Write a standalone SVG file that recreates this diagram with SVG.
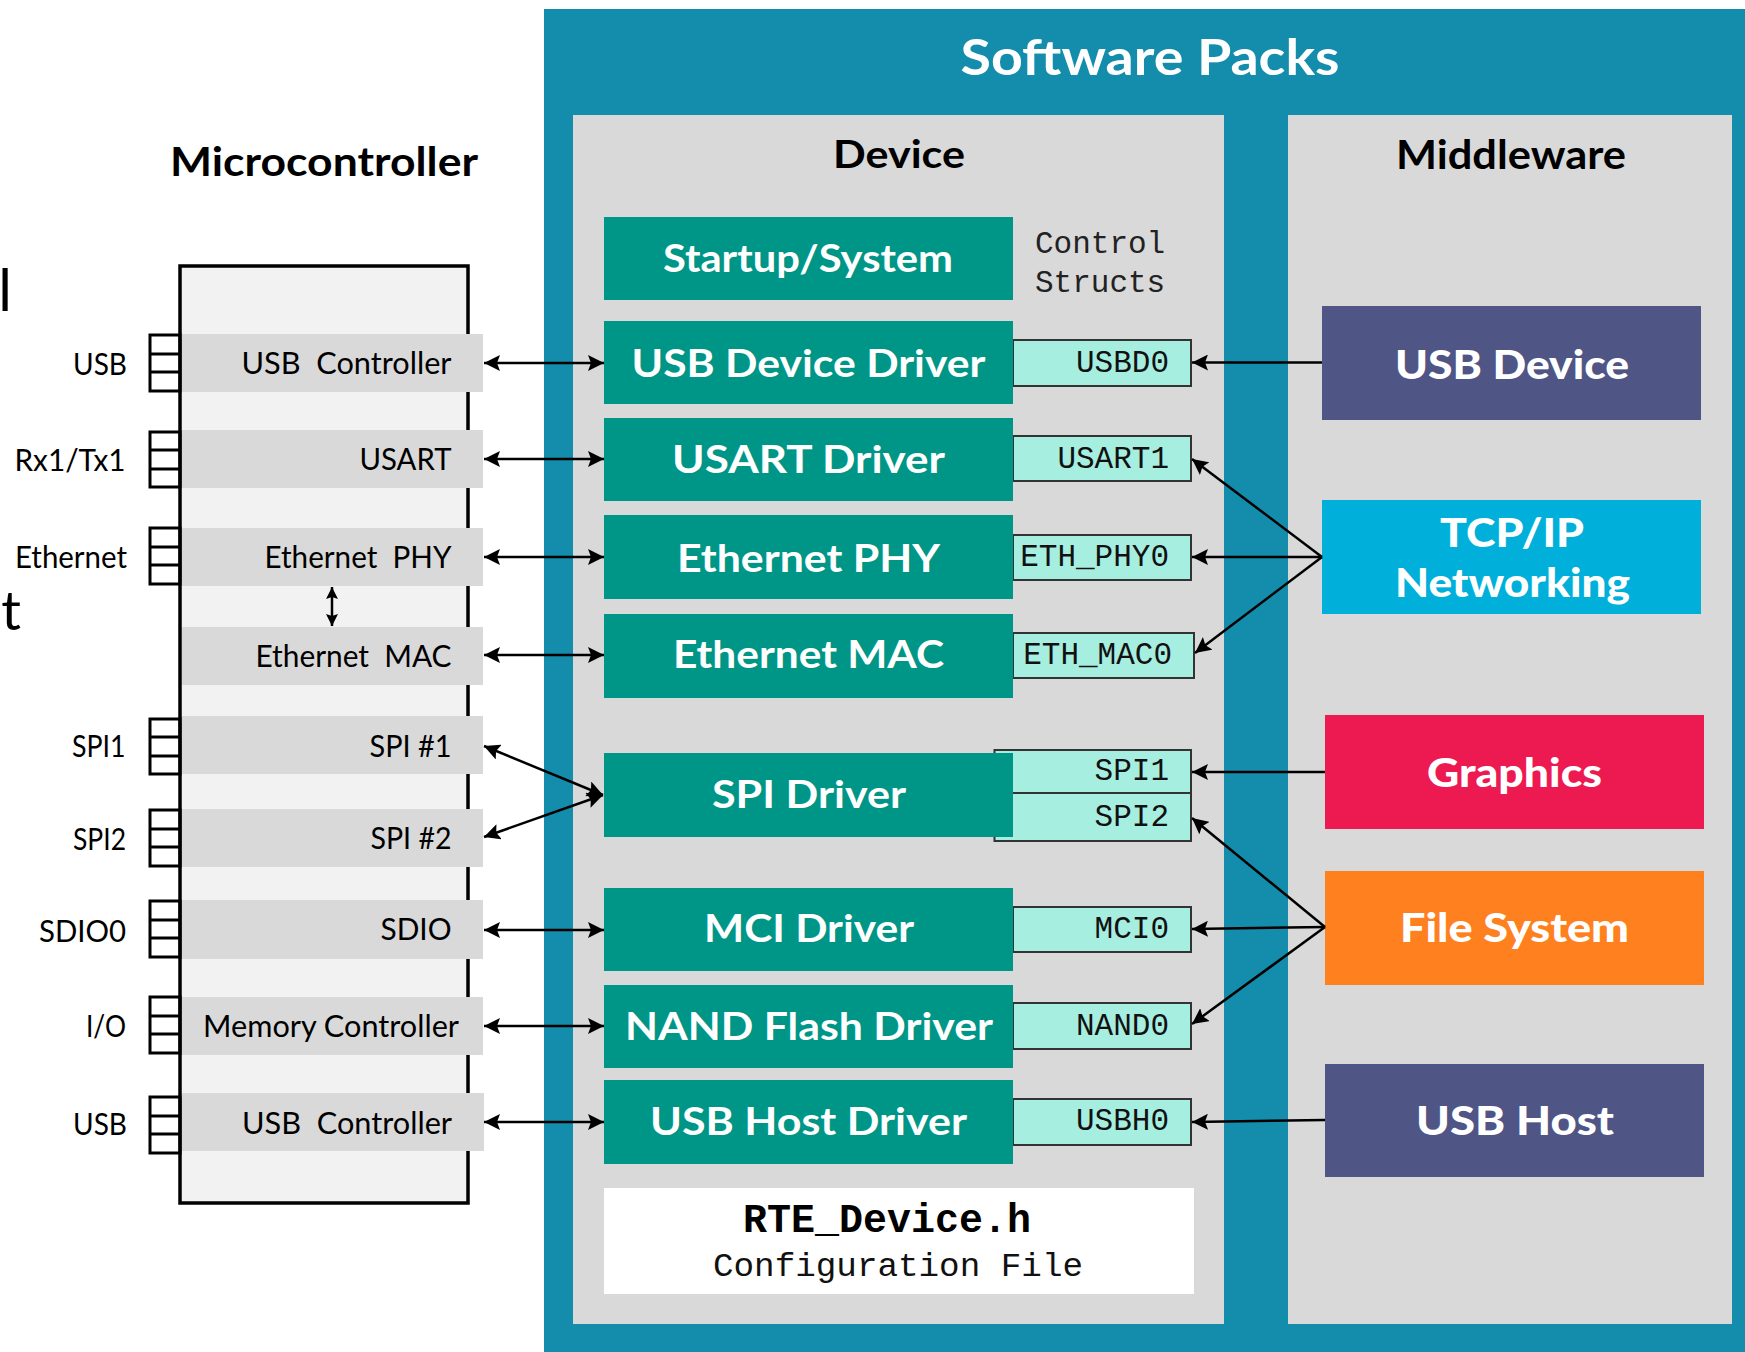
<svg xmlns="http://www.w3.org/2000/svg" width="1745" height="1352" viewBox="0 0 1745 1352">
<style>
.sans{font-family:Lato,"Open Sans","Liberation Sans",sans-serif}
.mono{font-family:"Liberation Mono","DejaVu Sans Mono",monospace}
.title{font-family:Lato,"Open Sans","Liberation Sans",sans-serif;font-weight:bold;fill:#000;text-anchor:middle}
.bar{fill:#D9D9D9}
.barlbl{font-family:Lato,"Open Sans","Liberation Sans",sans-serif;font-size:30px;fill:#000;text-anchor:end}
.pin{fill:none;stroke:#000;stroke-width:3}
.drv{fill:#009687}
.drvlbl{font-family:Lato,"Open Sans","Liberation Sans",sans-serif;font-weight:bold;font-size:38px;fill:#fff;text-anchor:middle}
.inst{fill:#A6EEE0;stroke:#333;stroke-width:2}
.instlbl{font-family:"Liberation Mono","DejaVu Sans Mono",monospace;font-size:31px;fill:#111;text-anchor:end}
.mwlbl{font-family:Lato,"Open Sans","Liberation Sans",sans-serif;font-weight:900;font-size:40px;fill:#fff;text-anchor:middle}
.conn{stroke:#000;stroke-width:2.5;fill:none}
</style>
<defs>
<marker id="ah" viewBox="0 0 16 16" refX="16" refY="8" markerWidth="16" markerHeight="16" markerUnits="userSpaceOnUse" orient="auto-start-reverse"><path d="M0,0 L16,8 L0,16 L3,8 z" fill="#000"/></marker>
<marker id="ahs" viewBox="0 0 12 12" refX="12" refY="6" markerWidth="12" markerHeight="12" markerUnits="userSpaceOnUse" orient="auto-start-reverse"><path d="M0,0 L12,6 L0,12 L2,6 z" fill="#000"/></marker>
</defs>
<rect width="1745" height="1352" fill="#fff"/>

<!-- cut-off fragments at left edge -->
<text class="sans" x="12" y="311" font-size="58" text-anchor="end" fill="#000">l</text>
<text class="sans" x="21" y="630" font-size="55" text-anchor="end" fill="#000">t</text>

<!-- Software packs container -->
<g id="software-packs">
<rect x="544" y="9" width="1201" height="1343" fill="#138DAB"/>
<text class="title" x="1150" y="75" font-size="50" style="fill:#fff" textLength="379" lengthAdjust="spacingAndGlyphs">Software Packs</text>
</g>
<g id="device-panel">
<rect x="573" y="115" width="651" height="1209" fill="#D9D9D9"/>
<text class="title" x="899" y="168" font-size="39" textLength="132" lengthAdjust="spacingAndGlyphs">Device</text>
</g>
<g id="middleware-panel">
<rect x="1288" y="115" width="444" height="1209" fill="#D9D9D9"/>
<text class="title" x="1511" y="169" font-size="40" font-weight="900" textLength="230" lengthAdjust="spacingAndGlyphs">Middleware</text>
</g>

<!-- Microcontroller -->
<g id="microcontroller">
<text class="title" x="324" y="176" font-size="40" textLength="308" lengthAdjust="spacingAndGlyphs">Microcontroller</text>
<rect x="180" y="266" width="288" height="937" fill="#F2F2F2" stroke="#000" stroke-width="3.5"/>
</g>

<g id="mc-usb-controller">
<rect class="bar" x="182" y="334" width="301" height="58"/>
<text class="barlbl" x="451.5" y="374" textLength="210" lengthAdjust="spacingAndGlyphs">USB&#160;&#160;Controller</text>
<rect class="pin" x="150" y="335" width="30" height="56"/><path class="pin" d="M150,354 H180 M150,372 H180"/>
<text class="barlbl" x="127" y="375" textLength="54" lengthAdjust="spacingAndGlyphs">USB</text>
</g>
<g id="mc-usart">
<rect class="bar" x="182" y="430" width="301" height="58"/>
<text class="barlbl" x="451.5" y="470" textLength="92" lengthAdjust="spacingAndGlyphs">USART</text>
<rect class="pin" x="150" y="432" width="30" height="55"/><path class="pin" d="M150,450 H180 M150,469 H180"/>
<text class="barlbl" x="125.5" y="471" textLength="111" lengthAdjust="spacingAndGlyphs">Rx1/Tx1</text>
</g>
<g id="mc-eth-phy">
<rect class="bar" x="182" y="528" width="301" height="58"/>
<text class="barlbl" x="451.5" y="568" textLength="187" lengthAdjust="spacingAndGlyphs">Ethernet&#160;&#160;PHY</text>
<rect class="pin" x="150" y="528" width="30" height="56"/><path class="pin" d="M150,547 H180 M150,565 H180"/>
<text class="barlbl" x="127" y="568" textLength="112" lengthAdjust="spacingAndGlyphs">Ethernet</text>
</g>
<g id="mc-eth-mac">
<rect class="bar" x="182" y="627" width="301" height="58"/>
<text class="barlbl" x="451.5" y="667" textLength="196" lengthAdjust="spacingAndGlyphs">Ethernet&#160;&#160;MAC</text>
</g>
<g id="mc-spi1">
<rect class="bar" x="182" y="716" width="301" height="58"/>
<text class="barlbl" x="451.5" y="757" textLength="82" lengthAdjust="spacingAndGlyphs">SPI #1</text>
<rect class="pin" x="150" y="719" width="30" height="55"/><path class="pin" d="M150,737 H180 M150,756 H180"/>
<text class="barlbl" x="125.5" y="757" textLength="53.5" lengthAdjust="spacingAndGlyphs">SPI1</text>
</g>
<g id="mc-spi2">
<rect class="bar" x="182" y="809" width="301" height="58"/>
<text class="barlbl" x="451.5" y="849" textLength="81" lengthAdjust="spacingAndGlyphs">SPI #2</text>
<rect class="pin" x="150" y="810" width="30" height="56"/><path class="pin" d="M150,829 H180 M150,847 H180"/>
<text class="barlbl" x="126" y="850" textLength="53" lengthAdjust="spacingAndGlyphs">SPI2</text>
</g>
<g id="mc-sdio">
<rect class="bar" x="182" y="900" width="301" height="59"/>
<text class="barlbl" x="451.5" y="940" textLength="71" lengthAdjust="spacingAndGlyphs">SDIO</text>
<rect class="pin" x="150" y="901" width="30" height="56"/><path class="pin" d="M150,920 H180 M150,938 H180"/>
<text class="barlbl" x="126" y="942" textLength="87" lengthAdjust="spacingAndGlyphs">SDIO0</text>
</g>
<g id="mc-memory-controller">
<rect class="bar" x="182" y="997" width="301" height="58"/>
<text class="barlbl" x="459" y="1037" textLength="256" lengthAdjust="spacingAndGlyphs">Memory Controller</text>
<rect class="pin" x="150" y="997" width="30" height="56"/><path class="pin" d="M150,1016 H180 M150,1034 H180"/>
<text class="barlbl" x="126" y="1037" textLength="40" lengthAdjust="spacingAndGlyphs">I/O</text>
</g>
<g id="mc-usb-controller-2">
<rect class="bar" x="182" y="1093" width="302" height="58"/>
<text class="barlbl" x="452" y="1134" textLength="210" lengthAdjust="spacingAndGlyphs">USB&#160;&#160;Controller</text>
<rect class="pin" x="150" y="1097" width="30" height="56"/><path class="pin" d="M150,1116 H180 M150,1134 H180"/>
<text class="barlbl" x="127" y="1135" textLength="54" lengthAdjust="spacingAndGlyphs">USB</text>
</g>

<!-- Instance labels (drawn before drivers so SPI box sits behind) -->
<g id="inst-usbd0"><rect class="inst" x="1013" y="340" width="178" height="46"/><text class="instlbl" x="1169" y="372">USBD0</text></g>
<g id="inst-usart1"><rect class="inst" x="1013" y="436" width="178" height="45"/><text class="instlbl" x="1169" y="468">USART1</text></g>
<g id="inst-eth-phy0"><rect class="inst" x="1013" y="535" width="178" height="45"/><text class="instlbl" x="1169" y="566">ETH_PHY0</text></g>
<g id="inst-eth-mac0"><rect class="inst" x="1013" y="633" width="181" height="45"/><text class="instlbl" x="1172" y="664">ETH_MAC0</text></g>
<g id="inst-spi"><rect class="inst" x="994.5" y="750" width="196.5" height="43"/><rect class="inst" x="994.5" y="793" width="196.5" height="48"/><text class="instlbl" x="1169" y="780">SPI1</text><text class="instlbl" x="1169" y="826">SPI2</text></g>
<g id="inst-mci0"><rect class="inst" x="1013" y="907" width="178" height="45"/><text class="instlbl" x="1169" y="938">MCI0</text></g>
<g id="inst-nand0"><rect class="inst" x="1013" y="1003" width="178" height="46"/><text class="instlbl" x="1169" y="1035">NAND0</text></g>
<g id="inst-usbh0"><rect class="inst" x="1013" y="1099" width="178" height="46"/><text class="instlbl" x="1169" y="1130">USBH0</text></g>

<!-- Device drivers -->
<g id="drv-startup"><rect class="drv" x="604" y="217" width="409" height="83"/><text class="drvlbl" x="808" y="272" textLength="290" lengthAdjust="spacingAndGlyphs">Startup/System</text></g>
<g id="control-structs"><text class="mono" x="1035" y="253" font-size="31" fill="#222">Control</text><text class="mono" x="1035" y="292" font-size="31" fill="#222">Structs</text></g>
<g id="drv-usb-device"><rect class="drv" x="604" y="321" width="409" height="83"/><text class="drvlbl" x="808.5" y="377" textLength="354" lengthAdjust="spacingAndGlyphs">USB Device Driver</text></g>
<g id="drv-usart"><rect class="drv" x="604" y="418" width="409" height="83"/><text class="drvlbl" x="808.5" y="473" textLength="273" lengthAdjust="spacingAndGlyphs">USART Driver</text></g>
<g id="drv-eth-phy"><rect class="drv" x="604" y="515" width="409" height="84"/><text class="drvlbl" x="808.5" y="572" textLength="263" lengthAdjust="spacingAndGlyphs">Ethernet PHY</text></g>
<g id="drv-eth-mac"><rect class="drv" x="604" y="614" width="409" height="84"/><text class="drvlbl" x="808.5" y="668" textLength="271" lengthAdjust="spacingAndGlyphs">Ethernet MAC</text></g>
<g id="drv-spi"><rect class="drv" x="604" y="753" width="409" height="84"/><text class="drvlbl" x="809" y="808" textLength="194" lengthAdjust="spacingAndGlyphs">SPI Driver</text></g>
<g id="drv-mci"><rect class="drv" x="604" y="888" width="409" height="83"/><text class="drvlbl" x="809" y="942" textLength="210" lengthAdjust="spacingAndGlyphs">MCI Driver</text></g>
<g id="drv-nand"><rect class="drv" x="604" y="985" width="409" height="83"/><text class="drvlbl" x="809" y="1040" textLength="368" lengthAdjust="spacingAndGlyphs">NAND Flash Driver</text></g>
<g id="drv-usb-host"><rect class="drv" x="604" y="1080" width="409" height="84"/><text class="drvlbl" x="808.5" y="1135" textLength="317" lengthAdjust="spacingAndGlyphs">USB Host Driver</text></g>

<g id="rte-device">
<rect x="604" y="1188" width="590" height="106" fill="#fff"/>
<text class="mono" x="887" y="1232" font-size="40" font-weight="bold" text-anchor="middle" fill="#000" textLength="288" lengthAdjust="spacingAndGlyphs">RTE_Device.h</text>
<text class="mono" x="898" y="1276" font-size="34" text-anchor="middle" fill="#111" textLength="370" lengthAdjust="spacingAndGlyphs">Configuration File</text>
</g>

<!-- Middleware -->
<g id="mw-usb-device"><rect x="1322" y="306" width="379" height="114" fill="#4F5585"/><text class="mwlbl" x="1512" y="378.5" textLength="234" lengthAdjust="spacingAndGlyphs">USB Device</text></g>
<g id="mw-tcpip"><rect x="1322" y="500" width="379" height="114" fill="#00B0DA"/><text class="mwlbl" x="1512" y="547" textLength="144" lengthAdjust="spacingAndGlyphs">TCP/IP</text><text class="mwlbl" x="1512.5" y="597" textLength="235" lengthAdjust="spacingAndGlyphs">Networking</text></g>
<g id="mw-graphics"><rect x="1325" y="715" width="379" height="114" fill="#EC1A50"/><text class="mwlbl" x="1514.5" y="787" textLength="175" lengthAdjust="spacingAndGlyphs">Graphics</text></g>
<g id="mw-file-system"><rect x="1325" y="871" width="379" height="114" fill="#FF801E"/><text class="mwlbl" x="1514.5" y="942" textLength="229" lengthAdjust="spacingAndGlyphs">File System</text></g>
<g id="mw-usb-host"><rect x="1325" y="1064" width="379" height="113" fill="#4F5585"/><text class="mwlbl" x="1515" y="1135" textLength="198" lengthAdjust="spacingAndGlyphs">USB Host</text></g>

<!-- Connectors -->
<g id="connectors">
<line class="conn" x1="484" y1="363" x2="604" y2="363" marker-start="url(#ah)" marker-end="url(#ah)"/>
<line class="conn" x1="484" y1="459" x2="604" y2="459" marker-start="url(#ah)" marker-end="url(#ah)"/>
<line class="conn" x1="484" y1="557" x2="604" y2="557" marker-start="url(#ah)" marker-end="url(#ah)"/>
<line class="conn" x1="484" y1="655" x2="604" y2="655" marker-start="url(#ah)" marker-end="url(#ah)"/>
<line class="conn" x1="484" y1="746" x2="603" y2="795" marker-start="url(#ah)" marker-end="url(#ah)"/>
<line class="conn" x1="484" y1="837" x2="603" y2="795" marker-start="url(#ah)" marker-end="url(#ah)"/>
<line class="conn" x1="484" y1="930" x2="604" y2="930" marker-start="url(#ah)" marker-end="url(#ah)"/>
<line class="conn" x1="484" y1="1026" x2="604" y2="1026" marker-start="url(#ah)" marker-end="url(#ah)"/>
<line class="conn" x1="484" y1="1122" x2="604" y2="1122" marker-start="url(#ah)" marker-end="url(#ah)"/>
<line class="conn" x1="332" y1="587" x2="332" y2="626" stroke-width="2" marker-start="url(#ahs)" marker-end="url(#ahs)"/>
<line class="conn" x1="1322" y1="362.5" x2="1192" y2="362.5" marker-end="url(#ah)"/>
<line class="conn" x1="1322" y1="557" x2="1192" y2="459" marker-end="url(#ah)"/>
<line class="conn" x1="1322" y1="557" x2="1192" y2="557" marker-end="url(#ah)"/>
<line class="conn" x1="1322" y1="557" x2="1195" y2="653" marker-end="url(#ah)"/>
<line class="conn" x1="1325" y1="772" x2="1192" y2="772" marker-end="url(#ah)"/>
<line class="conn" x1="1325" y1="927" x2="1192" y2="818" marker-end="url(#ah)"/>
<line class="conn" x1="1325" y1="927" x2="1192" y2="929" marker-end="url(#ah)"/>
<line class="conn" x1="1325" y1="927" x2="1192" y2="1024" marker-end="url(#ah)"/>
<line class="conn" x1="1325" y1="1120" x2="1192" y2="1122" marker-end="url(#ah)"/>
</g>
</svg>
